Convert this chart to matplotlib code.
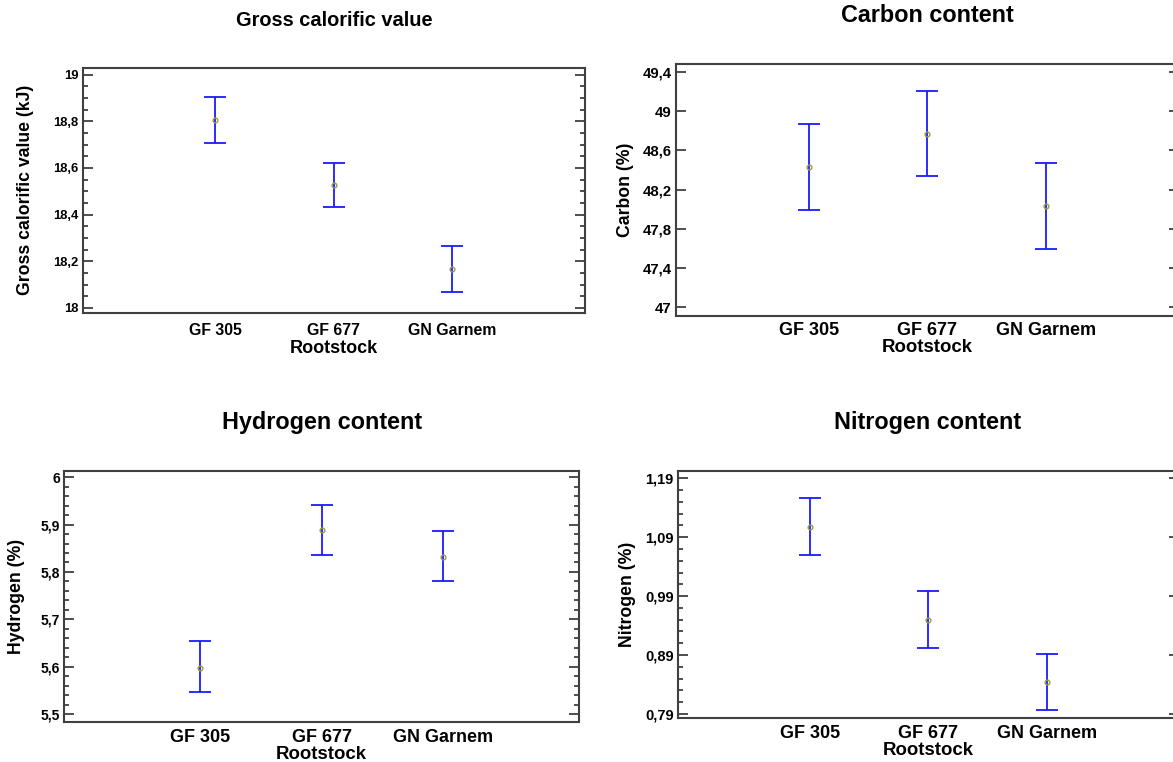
import matplotlib
matplotlib.use('Agg')
import matplotlib.pyplot as plt
from matplotlib.ticker import MultipleLocator, FuncFormatter
import numpy as np

plt.rcParams['font.family'] = ['Liberation Sans', 'DejaVu Sans']
plt.rcParams['font.weight'] = 'bold'

rootstocks = ['GF 305', 'GF 677', 'GN Garnem']

gcv_mean = [18.807, 18.527, 18.167]
gcv_low = [18.709, 18.431, 18.069]
gcv_high = [18.904, 18.623, 18.264]

carbon_mean = [48.434, 48.771, 48.036]
carbon_low = [47.992, 48.342, 47.597]
carbon_high = [48.869, 49.206, 48.471]

hydrogen_mean = [5.598, 5.889, 5.831]
hydrogen_low = [5.547, 5.835, 5.780]
hydrogen_high = [5.654, 5.942, 5.887]

nitrogen_mean = [1.108, 0.950, 0.844]
nitrogen_low = [1.060, 0.902, 0.796]
nitrogen_high = [1.156, 0.998, 0.892]

W, H = 1173, 762
fig = plt.figure(figsize=(W / 100, H / 100), dpi=100)


def comma(v, pos):
    s = '{:.2f}'.format(v).rstrip('0').rstrip('.')
    return s.replace('.', ',')


def panel(box, mean, low, high, title, ylabel, ylim, major, minor, start,
          title_xy, ylab_x, fs_title, fs_tick, fs_cat, fs_lab, xpad=5, lpad=0):
    l, t, r, b = box
    ax = fig.add_axes([l / W, 1 - b / H, (r - l) / W, (b - t) / H])
    x = np.arange(1, 4)
    mean = np.array(mean)
    err = [mean - np.array(low), np.array(high) - mean]
    # confidence intervals
    ax.errorbar(x, mean, yerr=err, fmt='none', ecolor='#1a1aff', elinewidth=1.3,
                capsize=8, capthick=1.3)
    ax.plot(x, mean, 'o', ms=3.4, mfc='none', mec='#9a9a40', mew=1.0)
    ax.set_xlim(-0.12, 4.12)
    ax.set_ylim(*ylim)
    ax.yaxis.set_major_locator(MultipleLocator(major, offset=start % major))
    if minor:
        ax.yaxis.set_minor_locator(MultipleLocator(minor, offset=start % minor))
    ax.yaxis.set_major_formatter(FuncFormatter(comma))
    ax.tick_params(axis='y', which='both', direction='in', left=True, right=True,
                   color='#303030', width=1.2, labelsize=fs_tick, pad=3)
    ax.tick_params(axis='y', which='major', length=7)
    ax.tick_params(axis='y', which='minor', length=3.6)
    ax.set_xticks(x)
    ax.set_xticklabels(rootstocks, fontsize=fs_cat, fontweight='bold')
    ax.tick_params(axis='x', length=0, pad=xpad)
    ax.set_xlabel('Rootstock', fontsize=fs_lab, fontweight='bold', labelpad=lpad)
    for s in ax.spines.values():
        s.set_color('#404040')
        s.set_linewidth(1.5)
    fig.text(title_xy[0] / W, 1 - title_xy[1] / H, title, ha='center', va='center',
             fontsize=fs_title, fontweight='bold')
    fig.text(ylab_x / W, 1 - (t + b) / 2 / H, ylabel, rotation=90, ha='center',
             va='center', fontsize=12.7, fontweight='bold')
    return ax


panel((82.7, 67.7, 585, 312.5), gcv_mean, gcv_low, gcv_high,
      'Gross calorific value', 'Gross calorific value (kJ)',
      (17.98, 19.03), 0.2, 0.05, 18.0, (334, 21), 26, 14.4, 9.4, 11.4, 13,
      xpad=7.5, lpad=1.5)

panel((676, 63.5, 1179, 315.5), carbon_mean, carbon_low, carbon_high,
      'Carbon content', 'Carbon (%)',
      (46.915, 49.486), 0.4, None, 47.0, (927, 16), 626, 16.8, 10.7, 13, 13.4)

panel((64.3, 471, 579, 721.7), hydrogen_mean, hydrogen_low, hydrogen_high,
      'Hydrogen content', 'Hydrogen (%)',
      (5.484, 6.013), 0.1, 0.02, 5.5, (322, 423), 17, 16.8, 10, 13, 13.4)

panel((677.7, 471, 1179, 718), nitrogen_mean, nitrogen_low, nitrogen_high,
      'Nitrogen content', 'Nitrogen (%)',
      (0.783, 1.2024), 0.1, 0.02, 0.79, (928, 423), 627, 16.8, 10.5, 13, 13.4)

fig.savefig('out.png', dpi=100)
